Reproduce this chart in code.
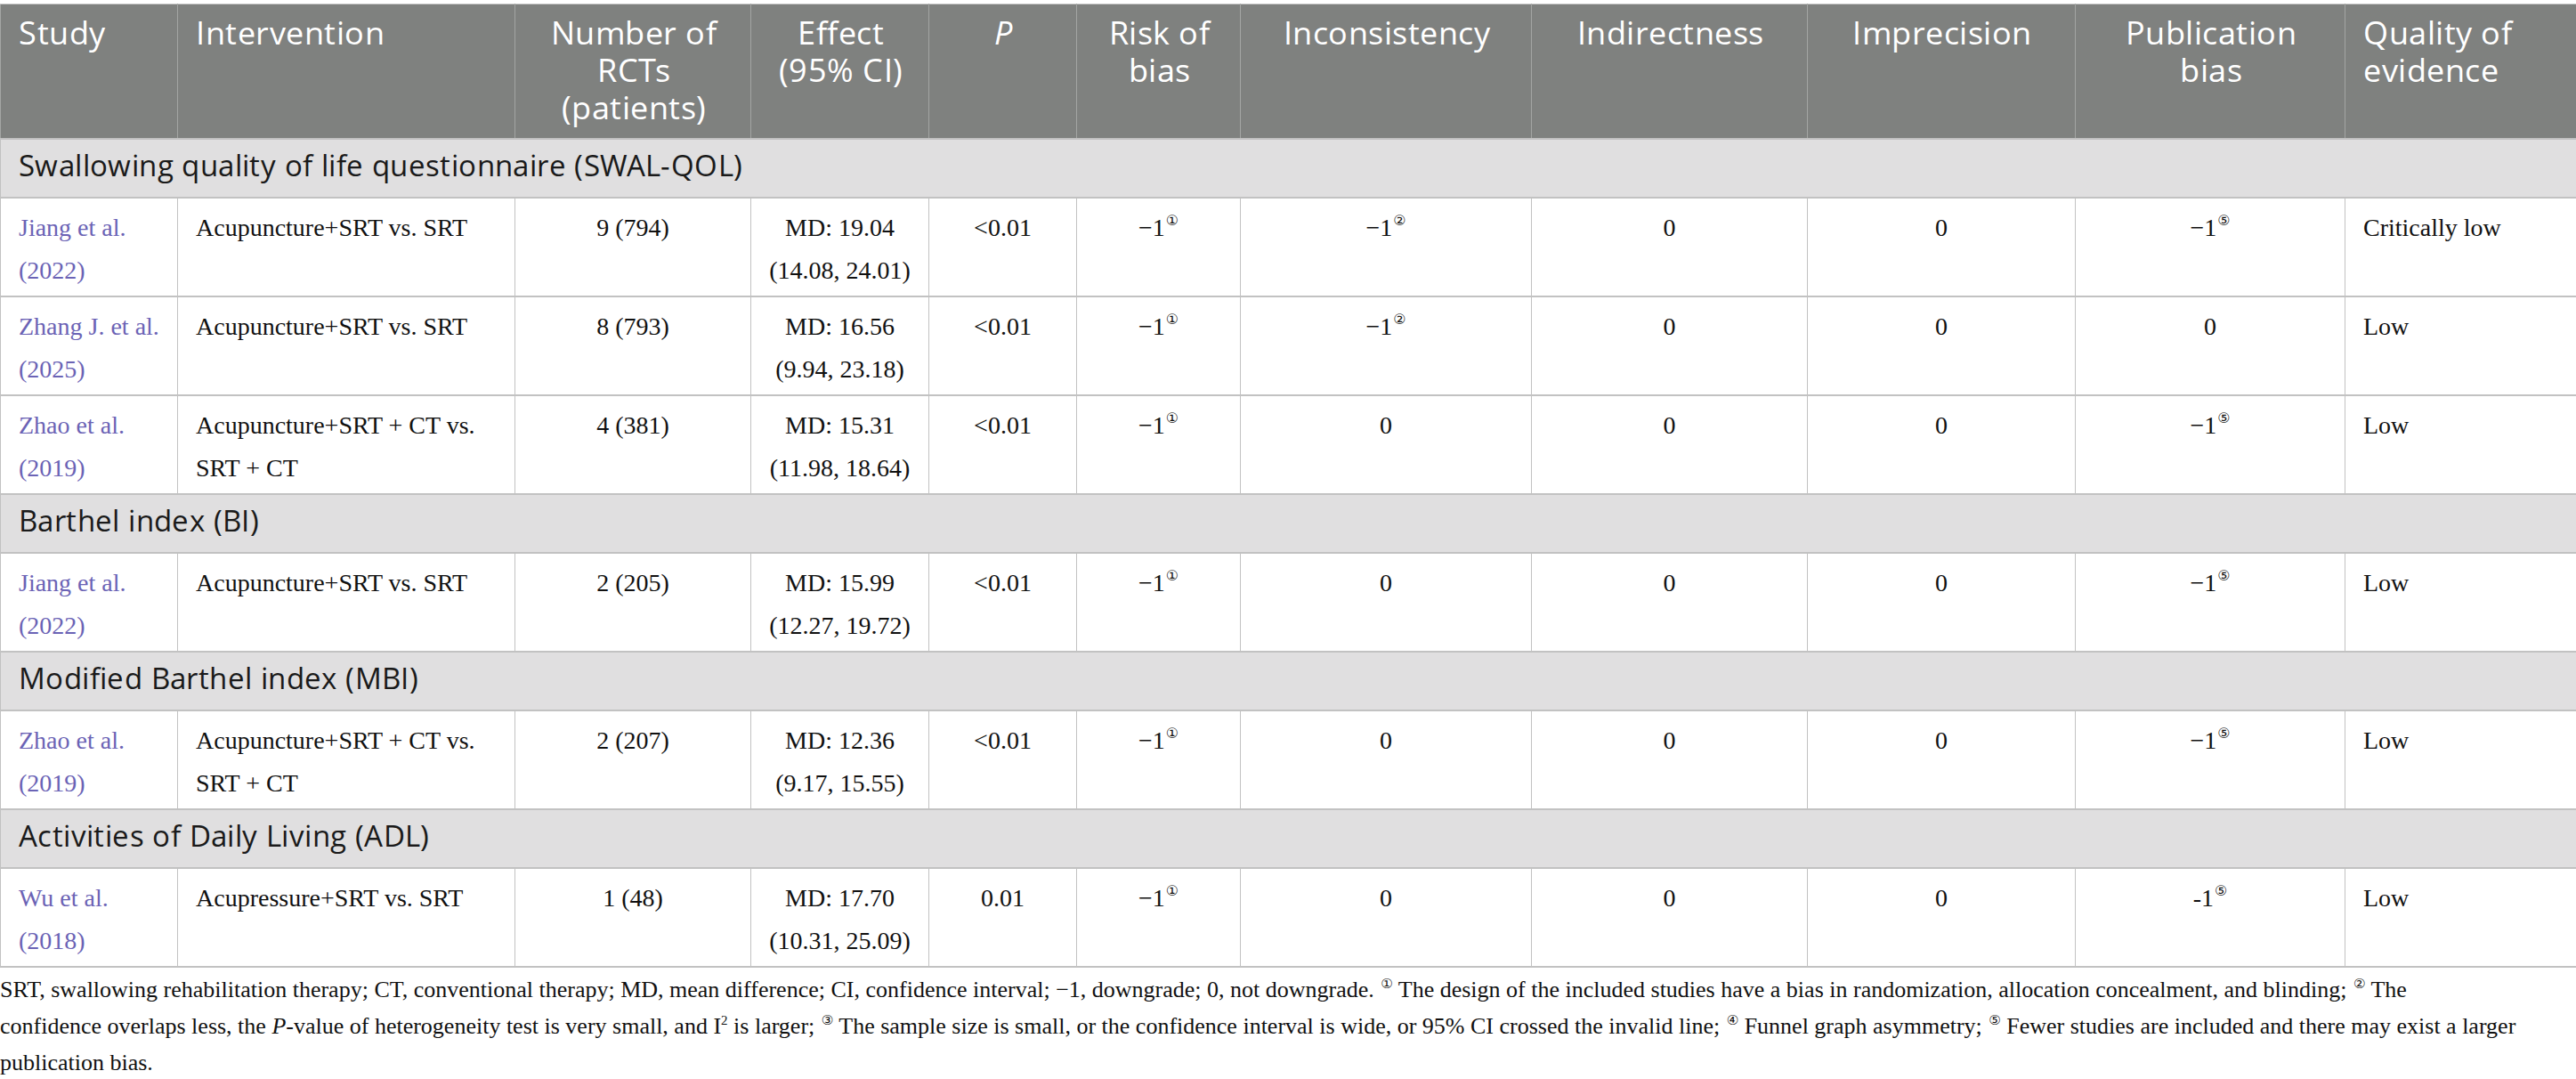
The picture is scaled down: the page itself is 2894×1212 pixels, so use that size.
<!DOCTYPE html>
<html>
<head>
<meta charset="utf-8">
<script src="https://cdn.jsdelivr.net/npm/chart.js"></script>
<style>
  @font-face {
    font-family: "HeadSans";
    src: local("Open Sans"), local("Open Sans Regular"), local("OpenSans-Regular");
    ascent-override: 80%; descent-override: 20%; line-gap-override: 0%;
  }
  @font-face {
    font-family: "HeadSans";
    font-style: italic;
    src: local("Open Sans Italic"), local("OpenSans-Italic");
    ascent-override: 80%; descent-override: 20%; line-gap-override: 0%;
  }
  body { margin: 0; background: #fff; width: 2894px; height: 1212px; overflow: hidden; }
  #wrap { position: absolute; left: 0; top: 4px; width: 2894px; }
  table { border-collapse: collapse; table-layout: fixed; width: 2893px; }
  th {
    background: #7f817f; color: #fff; font-family: "HeadSans", "Open Sans", sans-serif;
    font-weight: 400; font-size: 36px; letter-spacing: 0.5px; line-height: 42px; vertical-align: top;
    padding: 13px 18px 0 20px; border-left: 1px solid #a3a5a3; border-right: 1px solid #a3a5a3;
    border-top: 1px solid #c8c8c8; text-align: center; height: 137px; white-space: nowrap;
  }
  th.l { text-align: left; }
  th i { font-style: italic; }
  td {
    font-family: "Liberation Serif", serif; font-size: 28px; line-height: 48px;
    color: #111; vertical-align: top; padding: 9px 20px 0 20px; text-align: center;
    border: 1px solid #c2c2c2; border-top: 2px solid #c2c2c2; border-bottom: 2px solid #c2c2c2;
    overflow: hidden; white-space: nowrap;
  }
  td.l { text-align: left; }
  td.ref { color: #6b63b5; }
  tr.data td { height: 100px; }
  tr.sec td {
    background: #e0dfe0; font-family: "HeadSans", "Open Sans", sans-serif; font-size: 33px; letter-spacing: 0.4px;
    text-align: left; vertical-align: middle; padding: 0 20px; height: 64px; color: #1a1a1a;
  }
  sup.c { font-family: "DejaVu Sans", sans-serif; font-size: 16px; vertical-align: 12px; line-height: 0; margin-left: 1px; }
  #note {
    position: absolute; left: 0; top: 1091px; font-family: "Liberation Serif", serif;
    font-size: 26px; line-height: 41px; color: #111; white-space: nowrap;
  }
  #note sup { font-size: 15px; vertical-align: 10px; line-height: 0; }
  #note sup.c { font-family: "DejaVu Sans", sans-serif; font-size: 15px; }
</style>
</head>
<body>
<div id="wrap"><table id="grade"></table></div>
<div id="note"></div>
<script>
// column headers and widths (px)
var headers = ["Study", "Intervention", "Number of<br>RCTs<br>(patients)", "Effect<br>(95% CI)", "<i>P</i>",
  "Risk of<br>bias", "Inconsistency", "Indirectness", "Imprecision", "Publication<br>bias", "Quality of<br>evidence"];
var colWidths = [199, 379, 265, 200, 166, 184, 327, 310, 301, 303, 260];
var leftCols = [0, 1, 10];

// outcome groups: title and the rows that belong to it
var sections = ["Swallowing quality of life questionnaire (SWAL-QOL)", "Barthel index (BI)",
  "Modified Barthel index (MBI)", "Activities of Daily Living (ADL)"];
var sectionOf = [0, 0, 0, 1, 2, 3];

var studies = ["Jiang et al.", "Zhang J. et al.", "Zhao et al.", "Jiang et al.", "Zhao et al.", "Wu et al."];
var years = ["(2022)", "(2025)", "(2019)", "(2022)", "(2019)", "(2018)"];
var interventions = ["Acupuncture+SRT vs. SRT", "Acupuncture+SRT vs. SRT", "Acupuncture+SRT + CT vs.<br>SRT + CT",
  "Acupuncture+SRT vs. SRT", "Acupuncture+SRT + CT vs.<br>SRT + CT", "Acupressure+SRT vs. SRT"];
var rcts = [9, 8, 4, 2, 2, 1];
var patients = [794, 793, 381, 205, 207, 48];
var md = ["19.04", "16.56", "15.31", "15.99", "12.36", "17.70"];
var ciLow = ["14.08", "9.94", "11.98", "12.27", "9.17", "10.31"];
var ciHigh = ["24.01", "23.18", "18.64", "19.72", "15.55", "25.09"];
var pValues = ["<0.01", "<0.01", "<0.01", "<0.01", "<0.01", "0.01"];
var riskOfBias = ["−1①", "−1①", "−1①", "−1①", "−1①", "−1①"];
var inconsistency = ["−1②", "−1②", "0", "0", "0", "0"];
var indirectness = ["0", "0", "0", "0", "0", "0"];
var imprecision = ["0", "0", "0", "0", "0", "0"];
var publicationBias = ["−1⑤", "0", "−1⑤", "−1⑤", "−1⑤", "-1⑤"];
var quality = ["Critically low", "Low", "Low", "Low", "Low", "Low"];

var noteLines = [
  "SRT, swallowing rehabilitation therapy; CT, conventional therapy; MD, mean difference; CI, confidence interval; −1, downgrade; 0, not downgrade. ① The design of the included studies have a bias in randomization, allocation concealment, and blinding; ② The",
  "confidence overlaps less, the <i>P</i>-value of heterogeneity test is very small, and I<sup>2</sup> is larger; ③ The sample size is small, or the confidence interval is wide, or 95% CI crossed the invalid line; ④ Funnel graph asymmetry; ⑤ Fewer studies are included and there may exist a larger",
  "publication bias."
];

function circled(s) {
  return s.replace(/([①②③④⑤])/g, '<sup class="c">$1</sup>');
}

function buildTable() {
  var t = document.getElementById("grade");
  var html = "<colgroup>";
  colWidths.forEach(function (w) { html += '<col style="width:' + w + 'px">'; });
  html += "</colgroup><tr>";
  headers.forEach(function (h, i) {
    html += '<th class="' + (leftCols.indexOf(i) >= 0 ? "l" : "") + '">' + h + "</th>";
  });
  html += "</tr>";
  var last = -1;
  studies.forEach(function (s, i) {
    if (sectionOf[i] !== last) {
      last = sectionOf[i];
      html += '<tr class="sec"><td colspan="' + headers.length + '">' + sections[last] + "</td></tr>";
    }
    var cells = [
      s + "<br>" + years[i],
      interventions[i],
      rcts[i] + " (" + patients[i] + ")",
      "MD: " + md[i] + "<br>(" + ciLow[i] + ", " + ciHigh[i] + ")",
      pValues[i].replace("<", "&lt;"),
      riskOfBias[i], inconsistency[i], indirectness[i], imprecision[i], publicationBias[i],
      quality[i]
    ];
    html += '<tr class="data">';
    cells.forEach(function (c, j) {
      var cls = (leftCols.indexOf(j) >= 0 ? "l" : "") + (j === 0 ? " ref" : "");
      html += '<td class="' + cls + '">' + circled(c) + "</td>";
    });
    html += "</tr>";
  });
  t.innerHTML = html;
  document.getElementById("note").innerHTML = noteLines.map(circled).join("<br>");
}

buildTable();
</script>
</body>
</html>
